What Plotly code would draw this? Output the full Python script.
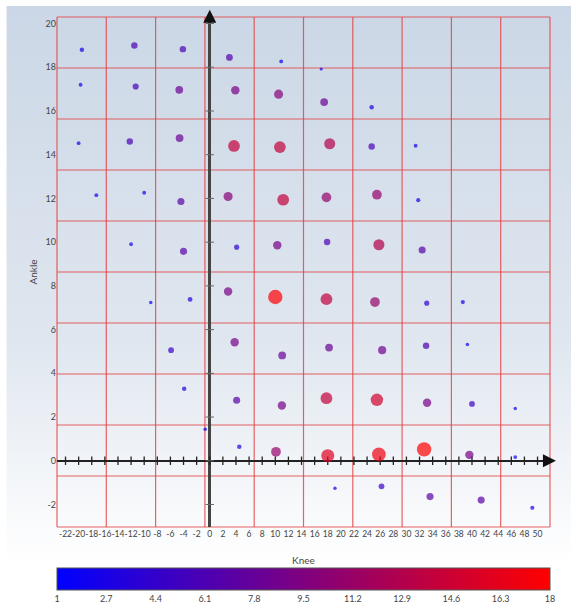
import base64
import plotly.graph_objects as go

# ---- data ----
knee = [
    -19.5, -11.5, -4.1, 3.0, 10.9, 17.0,
    -19.7, -11.3, -4.65, 3.9, 10.5, 17.45, 24.7,
    -20.0, -12.2, -4.6, 3.7, 10.7, 18.3, 24.7, 31.4,
    -17.3, -10.0, -4.4, 2.8, 11.2, 17.8, 25.5, 31.8,
    -12.0, -4.0, 4.1, 10.3, 17.9, 25.8, 32.4,
    -9.0, -3.0, 2.8, 10.0, 17.8, 25.2, 33.1, 38.6,
    -5.9, 3.8, 11.05, 18.2, 26.3, 33.0, 39.3,
    -3.9, 4.1, 11.0, 17.8, 25.5, 33.15, 40.0, 46.6,
    -0.7, 4.5, 10.1, 18.0, 25.8, 32.7, 39.6, 46.6,
    19.1, 26.2, 33.6, 41.4, 49.2,
]
ankle = [
    18.8, 19.0, 18.83, 18.45, 18.27, 17.92,
    17.2, 17.12, 16.97, 16.95, 16.77, 16.41, 16.17,
    14.53, 14.6, 14.76, 14.4, 14.35, 14.5, 14.38, 14.41,
    12.15, 12.26, 11.86, 12.09, 11.94, 12.05, 12.17, 11.92,
    9.91, 9.58, 9.77, 9.86, 10.01, 9.88, 9.64,
    7.24, 7.38, 7.74, 7.49, 7.39, 7.26, 7.21, 7.26,
    5.06, 5.42, 4.82, 5.18, 5.06, 5.26, 5.32,
    3.29, 2.77, 2.53, 2.86, 2.79, 2.65, 2.6, 2.39,
    1.44, 0.64, 0.41, 0.23, 0.29, 0.52, 0.27, 0.17,
    -1.26, -1.17, -1.64, -1.8, -2.15,
]
value = [
    3, 6, 6, 6.5, 2, 1,
    2, 5.5, 8, 9, 10, 8, 3,
    2, 6, 8, 14, 14, 13, 6, 2,
    2, 2, 7, 10, 14, 11, 11, 2.5,
    2, 7, 4, 9, 6, 13, 7,
    1.5, 3.5, 9, 18, 14, 11, 4, 2.5,
    5, 9, 8, 8, 8.5, 6, 1.5,
    3, 7, 9, 14, 15, 9, 5, 1.5,
    1.5, 3, 11, 16, 17, 18, 9, 2,
    1.5, 5, 7, 7, 2.5,
]
x_ticks = list(range(-22, 51, 2))
x_tick_labels = [str(v) for v in x_ticks]
y_ticks = list(range(-2, 21, 2))
y_tick_labels = [str(v) for v in y_ticks]
cmin, cmax = 1, 18
x_range = [-23.3, 51.9]
y_range = [-3.03, 20.3]

FONT = "Lato, 'Open Sans', sans-serif"
TXT = "#444444"

sizes = [2.5 + 0.66 * v for v in value]

fig = go.Figure()

# tick marks drawn on the central axes
fig.add_trace(go.Scatter(
    x=x_ticks, y=[0] * len(x_ticks), mode="markers", hoverinfo="skip",
    marker=dict(symbol="line-ns", size=6, line=dict(color="#222222", width=1.3)),
    showlegend=False,
))
fig.add_trace(go.Scatter(
    x=[0] * len(y_ticks), y=y_ticks, mode="markers", hoverinfo="skip",
    marker=dict(symbol="line-ew", size=6, line=dict(color="#666666", width=1)),
    showlegend=False,
))

fig.add_trace(go.Scatter(
    x=knee, y=ankle, mode="markers", showlegend=False,
    marker=dict(
        size=sizes, color=value, cmin=cmin, cmax=cmax,
        colorscale=[[0, "rgb(0,0,255)"], [1, "rgb(255,0,0)"]],
        line=dict(width=0),
        showscale=True,
        colorbar=dict(
            orientation="h", x=0.5, xanchor="center", y=-0.08, yanchor="top",
            len=1, lenmode="fraction", thickness=22, thicknessmode="pixels",
            xpad=0, ypad=0, outlinewidth=1, outlinecolor="#555555",
            tickmode="linear", tick0=cmin, dtick=1.7, ticks="",
            tickfont=dict(family=FONT, size=9, color=TXT),
        ),
    ),
))

# red 10x10 grid over the plot area
shapes = []
for i in range(11):
    f = i / 10
    shapes.append(dict(type="line", xref="paper", yref="paper", x0=f, x1=f, y0=0, y1=1,
                       line=dict(color="rgba(228,60,60,0.8)", width=1.2), layer="below"))
    shapes.append(dict(type="line", xref="paper", yref="paper", x0=0, x1=1, y0=f, y1=f,
                       line=dict(color="rgba(228,60,60,0.8)", width=1.2), layer="below"))

# gradient background
svg = ('<svg xmlns="http://www.w3.org/2000/svg" width="100" height="100" viewBox="0 0 100 100" '
       'preserveAspectRatio="none"><defs><linearGradient id="g" x1="0" y1="0" x2="0" y2="1">'
       '<stop offset="0" stop-color="#cbd7e6"/><stop offset="0.55" stop-color="#dfe6ef"/>'
       '<stop offset="0.93" stop-color="#ffffff"/><stop offset="1" stop-color="#ffffff"/>'
       '</linearGradient></defs><rect x="0" y="0" width="100" height="100" fill="url(#g)"/></svg>')
src = "data:image/svg+xml;base64," + base64.b64encode(svg.encode()).decode()

fig.update_layout(
    width=576, height=614, autosize=False,
    margin=dict(l=57, r=26, t=17, b=83),
    paper_bgcolor="white", plot_bgcolor="rgba(0,0,0,0)",
    font=dict(family=FONT, size=10, color=TXT),
    shapes=shapes,
    images=[dict(source=src, xref="paper", yref="paper", x=-0.1028, y=1.022,
                 sizex=1.1454, sizey=1.1765, xanchor="left", yanchor="top",
                 sizing="stretch", layer="below")],
    xaxis=dict(range=x_range, tickmode="array", tickvals=x_ticks, ticktext=x_tick_labels,
               tickangle=0, showgrid=False, showline=False, ticks="", automargin=False,
               zeroline=True, zerolinecolor="#444444", zerolinewidth=2.5,
               tickfont=dict(size=8.5, color=TXT),
               title=dict(text="Knee", standoff=19, font=dict(size=10, color=TXT))),
    yaxis=dict(range=y_range, tickmode="array", tickvals=y_ticks, ticktext=y_tick_labels,
               showgrid=False, showline=False, ticks="", automargin=False,
               zeroline=True, zerolinecolor="#222222", zerolinewidth=1.5,
               tickfont=dict(size=9, color=TXT),
               title=dict(text="Ankle", standoff=6, font=dict(size=10, color=TXT))),
    annotations=[
        dict(x=0, xref="x", y=1.014, yref="paper", text="", showarrow=True,
             ax=0, ay=14, arrowhead=2, arrowsize=1.3, arrowwidth=2, arrowcolor="#111111"),
        dict(x=1.012, xref="paper", y=0, yref="y", text="", showarrow=True,
             ax=-14, ay=0, arrowhead=2, arrowsize=1.3, arrowwidth=2, arrowcolor="#111111"),
    ],
)

fig.write_html("out.html")
